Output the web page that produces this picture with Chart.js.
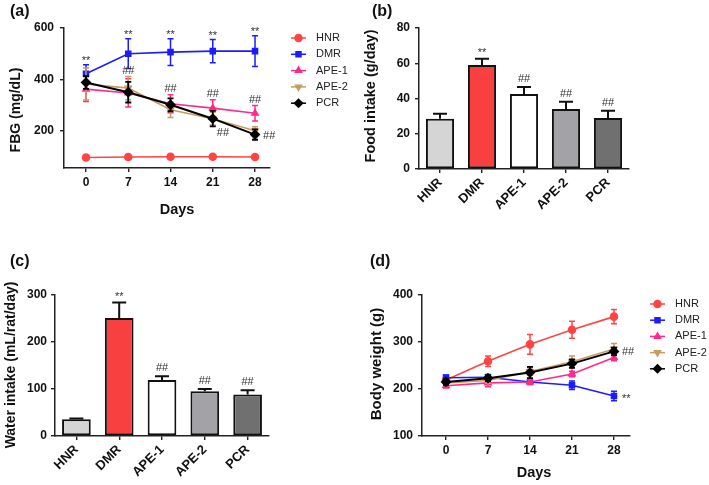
<!DOCTYPE html>
<html lang="en">
<head>
<meta charset="utf-8">
<title>FBG, food intake, water intake and body weight</title>
<script src="https://cdn.jsdelivr.net/npm/chart.js@4.4.1/dist/chart.umd.min.js"></script>
<style>
  body { margin: 0; background: #fff; }
  #lienzo { position: relative; width: 709px; height: 485px; overflow: hidden; }
  canvas { position: absolute; }
</style>
</head>
<body>
<div id="lienzo">
  <canvas id="graficaA" width="360" height="240" style="left:0;top:0"></canvas>
  <canvas id="graficaB" width="349" height="240" style="left:360px;top:0"></canvas>
  <canvas id="graficaC" width="360" height="245" style="left:0;top:240px"></canvas>
  <canvas id="graficaD" width="349" height="245" style="left:360px;top:240px"></canvas>
</div>
<script>
const dias = [0, 7, 14, 21, 28];
const grupos = ["HNR", "DMR", "APE-1", "APE-2", "PCR"];

// (a) glucosa en ayunas (mg/dL): media y error de cada grupo
const fbgHNR = [96, 98, 99, 99, 98];
const fbgDMR = [422, 500, 506, 510, 510];
const fbgAPE1 = [362, 347, 305, 288, 268];
const fbgAPE2 = [382, 366, 282, 247, 200];
const fbgPCR = [388, 350, 301, 247, 185];
const errFbgHNR = [4, 4, 4, 4, 4];
const errFbgDMR = [35, 58, 52, 45, 60];
const errFbgAPE1 = [48, 55, 35, 33, 30];
const errFbgAPE2 = [62, 45, 30, 25, 16];
const errFbgPCR = [25, 40, 25, 30, 20];
const ticksFbg = [200, 400, 600];

// (b) consumo de comida (g/day)
const comida = [28.5, 59, 42.5, 34, 29];
const errComida = [2.8, 3.5, 4, 4.2, 4];
const ticksComida = [0, 20, 40, 60, 80];

// (c) consumo de agua (mL/rat/day)
const agua = [35.5, 251, 119, 95, 88.5];
const errAgua = [2, 33, 8, 5, 9];
const ticksAgua = [0, 100, 200, 300];

// (d) peso corporal (g)
const pesoHNR = [219, 259, 295, 326, 354];
const pesoDMR = [224, 225, 215, 208, 185];
const pesoAPE1 = [207, 213, 215, 232, 267];
const pesoAPE2 = [213, 218, 237, 258, 285];
const pesoPCR = [215, 223, 235, 254, 280];
const errPesoHNR = [4, 11, 21, 18, 15];
const errPesoDMR = [6, 6, 5, 9, 10];
const errPesoAPE1 = [5, 8, 5, 6, 7];
const errPesoAPE2 = [5, 6, 8, 12, 12];
const errPesoPCR = [6, 6, 12, 9, 8];
const ticksPeso = [100, 200, 300, 400];

// marcas de significancia (x = dia o indice de grupo, serie = dataset de referencia)
const marcasA = [
  { x: 0, serie: 1, texto: "**", pos: "arriba" },
  { x: 7, serie: 1, texto: "**", pos: "arriba" },
  { x: 14, serie: 1, texto: "**", pos: "arriba" },
  { x: 21, serie: 1, texto: "**", pos: "arriba" },
  { x: 28, serie: 1, texto: "**", pos: "arriba" },
  { x: 7, serie: 3, texto: "##", pos: "arriba" },
  { x: 14, serie: 2, texto: "##", pos: "arriba" },
  { x: 21, serie: 2, texto: "##", pos: "arriba" },
  { x: 28, serie: 2, texto: "##", pos: "arriba" },
  { x: 21, serie: 4, texto: "##", pos: "abajo" },
  { x: 28, serie: 4, texto: "##", pos: "derecha" },
];
const marcasB = [
  { x: 1, serie: 0, texto: "**", pos: "arriba" },
  { x: 2, serie: 0, texto: "##", pos: "arriba" },
  { x: 3, serie: 0, texto: "##", pos: "arriba" },
  { x: 4, serie: 0, texto: "##", pos: "arriba" },
];
const marcasC = marcasB;
const marcasD = [
  { x: 28, serie: 4, texto: "##", pos: "derecha" },
  { x: 28, serie: 1, texto: "**", pos: "derecha" },
];

const fuente = "'Liberation Sans', Arial, Helvetica, sans-serif";
const coloresLinea = ["#ff4444", "#1c1cff", "#ff2a88", "#c99b5f", "#000000"];
const estilosPunto = ["circle", "rect", "triangle", "triangle", "rectRot"];
const rotacionPunto = [0, 0, 0, 180, 0];
const coloresBarra = ["#d5d5d5", "#f84040", "#ffffff", "#a3a3a7", "#707070"];

Chart.defaults.font.family = fuente;

function valor(d) {
  return typeof d === "object" ? d.y : d;
}

// barras de error verticales
const pluginErrores = {
  id: "errores",
  afterDatasetDraw(chart, args) {
    const ds = chart.data.datasets[args.index];
    if (!ds.errores) return;
    const ctx = chart.ctx;
    const y = chart.scales.y;
    ctx.save();
    ctx.strokeStyle = ds.colorError || ds.borderColor;
    ctx.lineWidth = ds.grosorError || 1.5;
    args.meta.data.forEach((el, i) => {
      const v = valor(ds.data[i]);
      const e = ds.errores[i];
      const arriba = y.getPixelForValue(v + e);
      const abajo = ds.soloArriba ? el.y : y.getPixelForValue(v - e);
      const c = ds.capa || 3;
      ctx.beginPath();
      ctx.moveTo(el.x, abajo);
      ctx.lineTo(el.x, arriba);
      ctx.moveTo(el.x - c, arriba);
      ctx.lineTo(el.x + c, arriba);
      if (!ds.soloArriba) {
        ctx.moveTo(el.x - c, abajo);
        ctx.lineTo(el.x + c, abajo);
      }
      ctx.stroke();
    });
    ctx.restore();
  },
};

// ** y ## encima o al lado de los puntos
const pluginMarcas = {
  id: "marcas",
  afterDatasetsDraw(chart, args, opts) {
    if (!opts.lista) return;
    const ctx = chart.ctx;
    const y = chart.scales.y;
    ctx.save();
    ctx.font = "11px " + fuente;
    ctx.fillStyle = "#333";
    ctx.textBaseline = "alphabetic";
    opts.lista.forEach((m) => {
      const ds = chart.data.datasets[m.serie];
      const meta = chart.getDatasetMeta(m.serie);
      const i = opts.porDia ? dias.indexOf(m.x) : m.x;
      const el = meta.data[i];
      const v = valor(ds.data[i]);
      const e = ds.errores[i];
      const med = ctx.measureText(m.texto);
      const mitad = (med.actualBoundingBoxAscent - med.actualBoundingBoxDescent) / 2;
      let x, yc;
      if (m.pos === "arriba") {
        ctx.textAlign = "center";
        x = el.x;
        yc = y.getPixelForValue(v + e) - opts.sep;
      } else if (m.pos === "derecha") {
        ctx.textAlign = "left";
        x = el.x + 8;
        yc = el.y;
      } else {
        ctx.textAlign = "left";
        x = el.x + 4;
        yc = y.getPixelForValue(v - e) + 6;
      }
      ctx.fillText(m.texto, x, yc + mitad);
    });
    ctx.restore();
  },
};

// leyenda con linea y marcador
const pluginLeyenda = {
  id: "leyendaPropia",
  afterDraw(chart, args, opts) {
    if (opts.x === undefined) return;
    const ctx = chart.ctx;
    chart.data.datasets.forEach((ds, i) => {
      const y = opts.y + i * opts.paso;
      ctx.save();
      ctx.strokeStyle = ds.borderColor;
      ctx.fillStyle = ds.borderColor;
      ctx.lineWidth = 1.5;
      ctx.beginPath();
      ctx.moveTo(opts.x, y);
      ctx.lineTo(opts.x + 15, y);
      ctx.stroke();
      if (Chart.helpers && Chart.helpers.drawPoint) {
        Chart.helpers.drawPoint(ctx, {
          pointStyle: ds.pointStyle,
          radius: ds.pointRadius,
          rotation: ds.pointRotation || 0,
          borderWidth: 1,
        }, opts.x + 7.5, y);
      } else {
        ctx.beginPath();
        ctx.arc(opts.x + 7.5, y, 3, 0, Math.PI * 2);
        ctx.fill();
      }
      ctx.fillStyle = "#222";
      ctx.font = "11px " + fuente;
      ctx.textAlign = "left";
      ctx.textBaseline = "middle";
      ctx.fillText(ds.label, opts.x + 25, y);
      ctx.restore();
    });
  },
};

// titulos de ejes y letras de panel
const pluginRotulos = {
  id: "rotulos",
  afterDraw(chart, args, opts) {
    if (!opts.lista) return;
    const ctx = chart.ctx;
    opts.lista.forEach((r) => {
      ctx.save();
      ctx.translate(r.x, r.y);
      if (r.vertical) ctx.rotate(-Math.PI / 2);
      ctx.font = "bold " + r.tam + "px " + fuente;
      ctx.fillStyle = "#111";
      ctx.textAlign = r.alinear || "center";
      ctx.textBaseline = "middle";
      ctx.fillText(r.texto, 0, 0);
      ctx.restore();
    });
  },
};

Chart.register(pluginErrores, pluginMarcas, pluginLeyenda, pluginRotulos);

function rejilla() {
  return { display: true, drawOnChartArea: false, drawTicks: true, tickLength: 4, color: "#222", lineWidth: 1.4, offset: false };
}
function borde() {
  return { display: true, color: "#222", width: 1.5 };
}
function letras(tam) {
  return { color: "#111", font: { family: fuente, size: tam, weight: "bold" } };
}

function ejeY(min, max, marcas, ancho, relleno) {
  return {
    type: "linear",
    min: min,
    max: max,
    afterBuildTicks: (s) => { s.ticks = marcas.map((v) => ({ value: v })); },
    afterFit: (s) => { s.width = ancho; },
    grid: rejilla(),
    border: borde(),
    ticks: Object.assign(letras(12), { padding: relleno }),
  };
}

function ejeDias(min, max, alto) {
  return {
    type: "linear",
    min: min,
    max: max,
    afterBuildTicks: (s) => { s.ticks = dias.map((v) => ({ value: v })); },
    afterFit: (s) => { s.height = alto; },
    grid: rejilla(),
    border: borde(),
    ticks: Object.assign(letras(12), { padding: 3 }),
  };
}

function ejeGrupos(alto) {
  return {
    type: "category",
    offset: true,
    afterFit: (s) => { s.height = alto; },
    grid: rejilla(),
    border: borde(),
    ticks: Object.assign(letras(13), { padding: 2, minRotation: 45, maxRotation: 45, autoSkip: false }),
  };
}

function serieLinea(i, valores, errores) {
  return {
    label: grupos[i],
    data: dias.map((d, k) => ({ x: d, y: valores[k] })),
    errores: errores,
    borderColor: coloresLinea[i],
    backgroundColor: coloresLinea[i],
    pointBackgroundColor: coloresLinea[i],
    pointBorderColor: coloresLinea[i],
    pointStyle: estilosPunto[i],
    pointRotation: rotacionPunto[i],
    pointRadius: i === 4 ? 4 : 3.5,
    pointHoverRadius: 4,
    borderWidth: i === 4 ? 2 : 1.6,
    grosorError: i === 4 ? 1.8 : 1.5,
    capa: 3,
    order: 5 - i,
  };
}

function serieBarra(valores, errores) {
  return {
    label: "media",
    data: valores,
    errores: errores,
    soloArriba: true,
    colorError: "#111",
    grosorError: 2,
    capa: 7,
    backgroundColor: coloresBarra,
    borderColor: "#111",
    borderWidth: 2,
    borderSkipped: false,
    categoryPercentage: 1,
    barPercentage: 0.67,
  };
}

function opcionesBase(relleno) {
  return {
    responsive: false,
    animation: false,
    events: [],
    layout: { padding: relleno },
    plugins: { legend: { display: false }, tooltip: { enabled: false } },
  };
}

// (a)
const opcA = opcionesBase({ left: 0, top: 28, right: 90, bottom: 0 });
opcA.scales = { x: ejeDias(-3.645, 30.48, 72), y: ejeY(55, 600, ticksFbg, 64, 6) };
opcA.plugins.marcas = { lista: marcasA, porDia: true, sep: 7 };
opcA.plugins.leyendaPropia = { x: 291, y: 38, paso: 16.3 };
opcA.plugins.rotulos = { lista: [
  { texto: "(a)", x: 10, y: 12, tam: 16, alinear: "left" },
  { texto: "FBG (mg/dL)", x: 16, y: 110, tam: 14, vertical: true },
  { texto: "Days", x: 177, y: 210, tam: 14.5 },
] };
new Chart(document.getElementById("graficaA"), {
  type: "line",
  data: { datasets: [
    serieLinea(0, fbgHNR, errFbgHNR),
    serieLinea(1, fbgDMR, errFbgDMR),
    serieLinea(2, fbgAPE1, errFbgAPE1),
    serieLinea(3, fbgAPE2, errFbgAPE2),
    serieLinea(4, fbgPCR, errFbgPCR),
  ] },
  options: opcA,
});

// (b)
const opcB = opcionesBase({ left: 0, top: 28, right: 80, bottom: 0 });
opcB.scales = { x: ejeGrupos(71), y: ejeY(0, 80, ticksComida, 59, 5) };
opcB.plugins.marcas = { lista: marcasB, porDia: false, sep: 9 };
opcB.plugins.rotulos = { lista: [
  { texto: "(b)", x: 12, y: 12, tam: 16, alinear: "left" },
  { texto: "Food intake (g/day)", x: 11, y: 96, tam: 14.5, vertical: true },
] };
new Chart(document.getElementById("graficaB"), {
  type: "bar",
  data: { labels: grupos, datasets: [serieBarra(comida, errComida)] },
  options: opcB,
});

// (c)
const opcC = opcionesBase({ left: 0, top: 55, right: 91, bottom: 0 });
opcC.scales = { x: ejeGrupos(49), y: ejeY(0, 300, ticksAgua, 55, 4) };
opcC.plugins.marcas = { lista: marcasC, porDia: false, sep: 9 };
opcC.plugins.rotulos = { lista: [
  { texto: "(c)", x: 10, y: 22, tam: 16, alinear: "left" },
  { texto: "Water intake (mL/rat/day)", x: 11, y: 125, tam: 14, vertical: true },
] };
new Chart(document.getElementById("graficaC"), {
  type: "bar",
  data: { labels: grupos, datasets: [serieBarra(agua, errAgua)] },
  options: opcC,
});

// (d)
const opcD = opcionesBase({ left: 0, top: 55, right: 79, bottom: 0 });
opcD.scales = { x: ejeDias(-4, 30.67, 49), y: ejeY(100, 400, ticksPeso, 62, 5) };
opcD.plugins.marcas = { lista: marcasD, porDia: true, sep: 7 };
opcD.plugins.leyendaPropia = { x: 290, y: 64, paso: 16.2 };
opcD.plugins.rotulos = { lista: [
  { texto: "(d)", x: 10, y: 22, tam: 16, alinear: "left" },
  { texto: "Body weight (g)", x: 16.5, y: 124, tam: 15, vertical: true },
  { texto: "Days", x: 174, y: 233, tam: 14.5 },
] };
new Chart(document.getElementById("graficaD"), {
  type: "line",
  data: { datasets: [
    serieLinea(0, pesoHNR, errPesoHNR),
    serieLinea(1, pesoDMR, errPesoDMR),
    serieLinea(2, pesoAPE1, errPesoAPE1),
    serieLinea(3, pesoAPE2, errPesoAPE2),
    serieLinea(4, pesoPCR, errPesoPCR),
  ] },
  options: opcD,
});
</script>
</body>
</html>
